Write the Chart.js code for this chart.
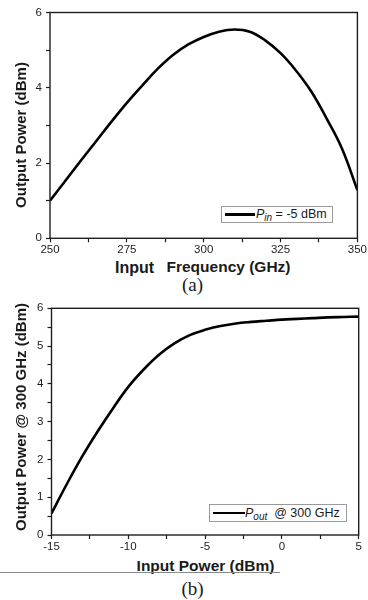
<!DOCTYPE html>
<html>
<head>
<meta charset="utf-8">
<script src="https://cdn.jsdelivr.net/npm/chart.js@4.4.1/dist/chart.umd.min.js"></script>
<style>
  html, body { margin: 0; padding: 0; background: #fff; }
  body { width: 368px; height: 600px; position: relative; overflow: hidden;
         font-family: "Liberation Sans", Arial, sans-serif; color: #1a1a1a; }
  canvas { position: absolute; left: 0; }
  .t { position: absolute; font-weight: bold; white-space: nowrap; line-height: 1; }
  .yt { transform: translate(-50%, -50%) rotate(-90deg); font-size: 15px; }
  .cap { position: absolute; font-family: "Liberation Serif", "Times New Roman", serif;
         font-size: 19px; line-height: 1; transform: translateX(-50%); }
  .leg { position: absolute; border: 1px solid #9a9a9a; background: #fff; box-sizing: border-box; }
  .leg .ln { position: absolute; height: 2.5px; background: #000; }
  .leg .tx { position: absolute; white-space: nowrap; line-height: 1; font-size: 12.5px; }
  .leg sub { font-size: 10px; vertical-align: -3px; line-height: 0; }
  .sep { position: absolute; left: 0; top: 572px; width: 280px; height: 1px; background: #8a8a8a; }
</style>
</head>
<body>
<canvas id="chartA" width="368" height="256" style="top:0px"></canvas>
<canvas id="chartB" width="368" height="256" style="top:296px"></canvas>

<div class="t yt" style="left:20px; top:135px;">Output Power (dBm)</div>
<div class="t" style="left:115px; top:260px; font-size:16px;">Input</div>
<div class="t" style="left:166.5px; top:258.6px; font-size:15.5px;">Frequency (GHz)</div>
<div class="cap" style="left:192.5px; top:274.7px;">(a)</div>
<div class="leg" style="left:221px; top:206px; width:112px; height:17px;">
  <div class="ln" style="left:3px; top:6px; width:30px;"></div>
  <div class="tx" style="left:34px; top:1px;"><i>P</i><sub><i>in</i></sub> = -5 dBm</div>
</div>

<div class="t yt" style="left:19.5px; top:417px;">Output Power @ 300 GHz (dBm)</div>
<div class="t" style="left:136.6px; top:557.7px; font-size:15.5px;">Input Power (dBm)</div>
<div class="sep"></div>
<div class="cap" style="left:192.5px; top:579px;">(b)</div>
<div class="leg" style="left:208.5px; top:504px; width:138px; height:18px;">
  <div class="ln" style="left:3.5px; top:6.5px; width:32px;"></div>
  <div class="tx" style="left:35.5px; top:1.5px;"><i>P</i><sub><i>out</i></sub>&nbsp; @ 300 GHz</div>
</div>

<script>
// (a) output power vs input frequency, Pin = -5 dBm
const freqGHz = [250, 255, 260, 265, 270, 275, 280, 285, 290, 295, 300,
                 305, 310, 315, 320, 325, 330, 335, 340, 345, 350];
const poutVsFreq = [1.0, 1.53, 2.06, 2.58, 3.1, 3.6, 4.06, 4.5, 4.87, 5.15, 5.35,
                    5.49, 5.55, 5.49, 5.26, 4.92, 4.46, 3.9, 3.18, 2.38, 1.28];

// (b) output power @ 300 GHz vs input power
const pinDbm = [-15, -14, -13, -12, -11, -10, -9, -8, -7, -6, -5,
                -4, -3, -2, -1, 0, 1, 2, 3, 4, 5];
const poutVsPin = [0.57, 1.35, 2.08, 2.74, 3.35, 3.92, 4.38, 4.77, 5.07, 5.29, 5.43,
                   5.53, 5.6, 5.64, 5.67, 5.7, 5.72, 5.74, 5.76, 5.77, 5.78];

const ink = "#1e1e1e";
const tickFont = { family: "'Liberation Sans', Arial, sans-serif", size: 11.5 };

// draws the closed box round the plot area
const framePlugin = {
  id: "frame",
  afterDraw(chart) {
    const { ctx, chartArea: a } = chart;
    ctx.save();
    ctx.strokeStyle = ink;
    ctx.lineWidth = 1.4;
    ctx.strokeRect(a.left, a.top, a.right - a.left, a.bottom - a.top);
    ctx.restore();
  }
};

function makeChart(id, xs, ys, opt) {
  const points = xs.map((x, i) => ({ x: x, y: ys[i] }));
  const axisGrid = { display: true, drawOnChartArea: false, drawTicks: true,
                     tickLength: 4, tickWidth: 1.2, tickColor: ink };
  return new Chart(document.getElementById(id), {
    type: "line",
    data: {
      datasets: [{
        data: points,
        borderColor: "#000",
        borderWidth: 2.6,
        pointRadius: 0,
        tension: 0.4,
        fill: false
      }]
    },
    options: {
      responsive: false,
      animation: false,
      devicePixelRatio: 1,
      layout: { padding: { top: opt.top, right: opt.right, left: 0, bottom: 0 } },
      plugins: { legend: { display: false }, tooltip: { enabled: false } },
      scales: {
        x: {
          type: "linear",
          min: opt.xMin, max: opt.xMax,
          border: { display: false },
          grid: axisGrid,
          ticks: {
            stepSize: opt.xStep, autoSkip: false, maxRotation: 0, padding: 1,
            color: ink, font: tickFont,
            callback: v => (Math.abs(v % opt.xMajor) < 1e-6 ? v : "")
          },
          afterFit: s => { s.height = opt.xHeight; }
        },
        y: {
          min: 0, max: 6,
          border: { display: false },
          grid: axisGrid,
          ticks: {
            stepSize: opt.yStep, autoSkip: false, padding: 4,
            color: ink, font: tickFont,
            callback: v => (Math.abs(v % opt.yMajor) < 1e-6 ? v : "")
          },
          afterFit: s => { s.width = opt.left; }
        }
      }
    },
    plugins: [framePlugin]
  });
}

makeChart("chartA", freqGHz, poutVsFreq, {
  xMin: 250, xMax: 350, xStep: 12.5, xMajor: 25, yStep: 1, yMajor: 2,
  top: 12.5, right: 9.3, left: 50, xHeight: 256 - 238.3
});

makeChart("chartB", pinDbm, poutVsPin, {
  xMin: -15, xMax: 5, xStep: 2.5, xMajor: 5, yStep: 0.5, yMajor: 1,
  top: 12.3, right: 9.3, left: 51.5, xHeight: 256 - 239
});
</script>
</body>
</html>
